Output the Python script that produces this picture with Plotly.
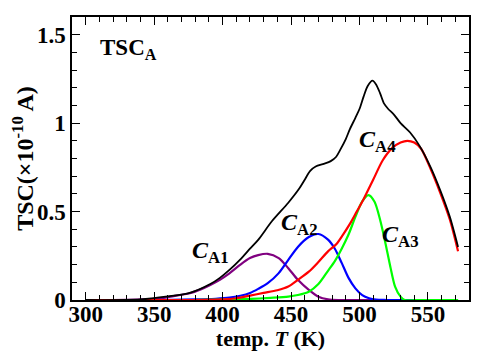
import plotly.graph_objects as go

# ---------------- data ----------------
t_a1 = [300, 330, 345, 355, 362, 376, 384, 391, 398, 405, 413, 420, 426, 433, 441, 448, 455, 463, 470, 477, 485, 500, 572]
v_a1 = [0, 0.001, 0.005, 0.01, 0.019, 0.038, 0.06, 0.085, 0.114, 0.15, 0.2, 0.237, 0.254, 0.261, 0.237, 0.18, 0.114, 0.057, 0.019, 0.004, 0, 0, 0]

t_a2 = [300, 350, 380, 395, 405, 413, 420, 426, 433, 441, 448, 455, 463, 470, 477, 482, 487, 492, 497, 502, 507, 512, 520, 572]
v_a2 = [0, 0, 0.003, 0.007, 0.013, 0.024, 0.04, 0.063, 0.095, 0.152, 0.227, 0.30, 0.356, 0.373, 0.341, 0.29, 0.21, 0.125, 0.066, 0.028, 0.01, 0.002, 0, 0]

t_a3 = [300, 380, 400, 420, 435, 448, 455, 463, 470, 477, 482, 487, 492, 497, 502, 506.6, 511, 515, 519, 522.5, 526, 530, 533, 545, 572]
v_a3 = [0, 0, 0.002, 0.006, 0.012, 0.019, 0.028, 0.047, 0.09, 0.165, 0.22, 0.29, 0.37, 0.47, 0.558, 0.593, 0.555, 0.455, 0.32, 0.19, 0.076, 0.019, 0, 0, 0]

t_a4 = [300, 380, 400, 410, 420, 430, 440, 448, 455, 463, 470, 477, 483, 488, 493, 498, 503, 510, 517, 524, 530, 535, 540, 545, 552, 559, 566, 572]
v_a4 = [0, 0, 0.003, 0.01, 0.025, 0.04, 0.055, 0.076, 0.114, 0.16, 0.215, 0.275, 0.315, 0.37, 0.43, 0.5, 0.57, 0.68, 0.79, 0.86, 0.89, 0.90, 0.89, 0.855, 0.74, 0.606, 0.455, 0.275]

t_tot = [300, 340, 360, 376, 391, 398, 405, 413, 420, 426, 436, 448, 456, 460, 464, 468, 474, 479, 483, 486, 490, 493, 497, 500, 503, 506, 509.5, 512, 515, 518, 521, 525, 530, 537, 544, 552, 559, 566, 572]
v_tot = [0, 0.003, 0.02, 0.04, 0.09, 0.125, 0.17, 0.23, 0.29, 0.34, 0.445, 0.55, 0.63, 0.68, 0.73, 0.755, 0.77, 0.785, 0.81, 0.85, 0.91, 0.966, 1.03, 1.08, 1.15, 1.21, 1.24, 1.22, 1.17, 1.11, 1.08, 1.05, 1.00, 0.947, 0.87, 0.75, 0.62, 0.47, 0.30]

label_text = ["<b><i>C</i><sub>A1</sub></b>", "<b><i>C</i><sub>A2</sub></b>",
              "<b><i>C</i><sub>A3</sub></b>", "<b><i>C</i><sub>A4</sub></b>"]
label_t = [391.5, 456, 530, 513]
label_v = [0.27, 0.43, 0.36, 0.90]

x_range = [290, 580]
y_range = [0, 1.6]

FONT = "Liberation Serif"

fig = go.Figure()
series = [
    (t_a1, v_a1, "#800080", 2.2),
    (t_a2, v_a2, "#0000ff", 2.2),
    (t_a3, v_a3, "#00ff00", 2.2),
    (t_a4, v_a4, "#ff0000", 2.2),
    (t_tot, v_tot, "#000000", 1.8),
]
for t, v, c, w in series:
    fig.add_trace(go.Scatter(x=t, y=v, mode="lines",
                             line=dict(color=c, width=w, shape="spline", smoothing=0.8),
                             showlegend=False, hoverinfo="skip"))

for txt, tx, ty in zip(label_text, label_t, label_v):
    fig.add_annotation(x=tx, y=ty, text=txt, showarrow=False,
                       font=dict(family=FONT, size=24, color="black"))

fig.add_annotation(x=331, y=1.42, text="<b>TSC<sub>A</sub></b>", showarrow=False,
                   font=dict(family=FONT, size=23, color="black"))

axis_common = dict(
    showgrid=False, zeroline=False, showline=True, linecolor="black", linewidth=1.5,
    mirror="allticks", ticks="inside", ticklen=8, tickwidth=1.3, tickcolor="black",
    automargin=False,
    tickfont=dict(family=FONT, size=23, color="black", weight="bold"),
)

fig.update_xaxes(range=x_range, tick0=300, dtick=50, ticklabelstandoff=-7,
                 minor=dict(dtick=10, ticks="inside", ticklen=5, tickcolor="black", tickwidth=1.2),
                 title=dict(text="<b>temp. <i>T</i> (K)</b>", font=dict(family=FONT, size=22, color="black"),
                            standoff=14),
                 **axis_common)
fig.update_yaxes(range=y_range, tick0=0, dtick=0.5,
                 minor=dict(dtick=0.1, ticks="inside", ticklen=5, tickcolor="black", tickwidth=1.2),
                 title=dict(text="<b>TSC(×10<sup>-10</sup> A)</b>", font=dict(family=FONT, size=24, color="black"),
                            standoff=2),
                 **axis_common)

# the page body has an 8px default margin; size the figure so the plot box
# lands at the reference's pixel positions inside the 486x359 window
fig.update_layout(
    width=470, height=343,
    margin=dict(l=64, r=9, t=9, b=51),
    plot_bgcolor="white", paper_bgcolor="white",
)

fig.write_html("out.html")
